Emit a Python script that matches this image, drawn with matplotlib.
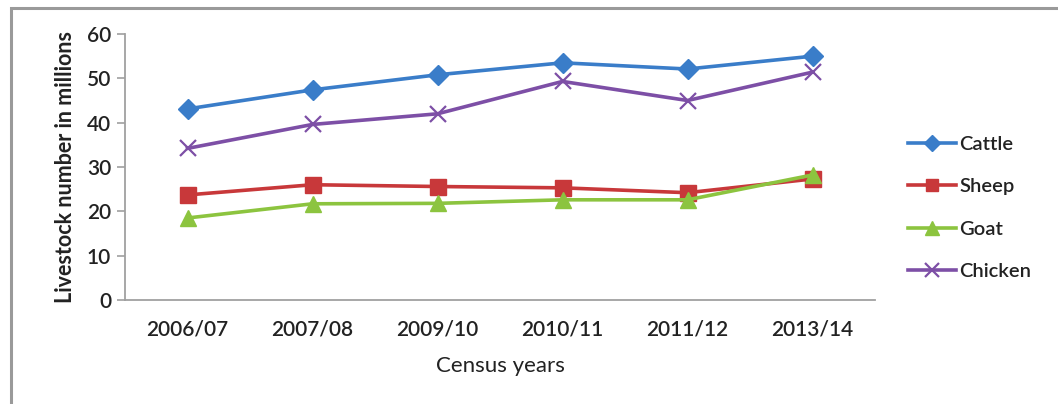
import matplotlib
matplotlib.use("Agg")
import matplotlib.pyplot as plt
from matplotlib.patches import Rectangle

categories = ["2006/07", "2007/08", "2009/10", "2010/11", "2011/12", "2013/14"]
cattle = [43.1, 47.4, 50.8, 53.5, 52.1, 55.0]
sheep = [23.7, 26.0, 25.6, 25.3, 24.2, 27.3]
goat = [18.5, 21.7, 21.8, 22.6, 22.6, 28.2]
chicken = [34.2, 39.6, 42.0, 49.3, 45.0, 51.4]

plt.rcParams['font.family'] = ['Lato', 'DejaVu Sans']

fig = plt.figure(figsize=(10.58, 4.04), dpi=100)
ax = fig.add_axes([125/1058, 1 - 300/404, 750/1058, 266/404])

x = list(range(len(categories)))
ax.plot(x, cattle, color="#3A7DC9", lw=2.6, marker="D", ms=10, label="Cattle")
ax.plot(x, sheep, color="#C8383A", lw=2.6, marker="s", ms=11, label="Sheep")
ax.plot(x, goat, color="#8CC43F", lw=2.6, marker="^", ms=12, label="Goat")
ax.plot(x, chicken, color="#7D4FA6", lw=2.6, marker="x", ms=12, mew=1.6, label="Chicken")

ax.set_xlim(-0.5, len(categories) - 0.5)
ax.set_ylim(0, 60)
ax.set_yticks(range(0, 61, 10))
ax.set_xticks(x)
ax.set_xticklabels(categories)
for s in ["top", "right"]:
    ax.spines[s].set_visible(False)
for s in ["left", "bottom"]:
    ax.spines[s].set_color("#A0A0A0")
    ax.spines[s].set_linewidth(1.3)
ax.tick_params(axis="y", length=6, color="#A0A0A0", width=1.2, labelsize=15, pad=4, labelcolor="#222222")
ax.tick_params(axis="x", length=0, labelsize=15, pad=14, labelcolor="#222222")
for lab in ax.get_xticklabels() + ax.get_yticklabels():
    lab.set_fontweight("semibold")

ax.set_ylabel("Livestock number in millions", fontsize=15.5, fontweight="bold", color="#222222", labelpad=8)
ax.set_xlabel("Census years", fontsize=16, color="#222222", labelpad=12)

leg = ax.legend(loc="center left", bbox_to_anchor=(1.02, 0.346), frameon=False,
                fontsize=14.5, handlelength=2.4, handletextpad=0.15, labelspacing=1.25,
                markerscale=0.8)
for t in leg.get_texts():
    t.set_color("#222222")
    t.set_fontweight("semibold")

fig.patches.append(Rectangle((11/1058, -0.05), 1.1, 1 - 8/404 + 0.05, transform=fig.transFigure,
                             fill=False, edgecolor="#9A9A9A", lw=2.2))

fig.savefig("out.png", dpi=100)
